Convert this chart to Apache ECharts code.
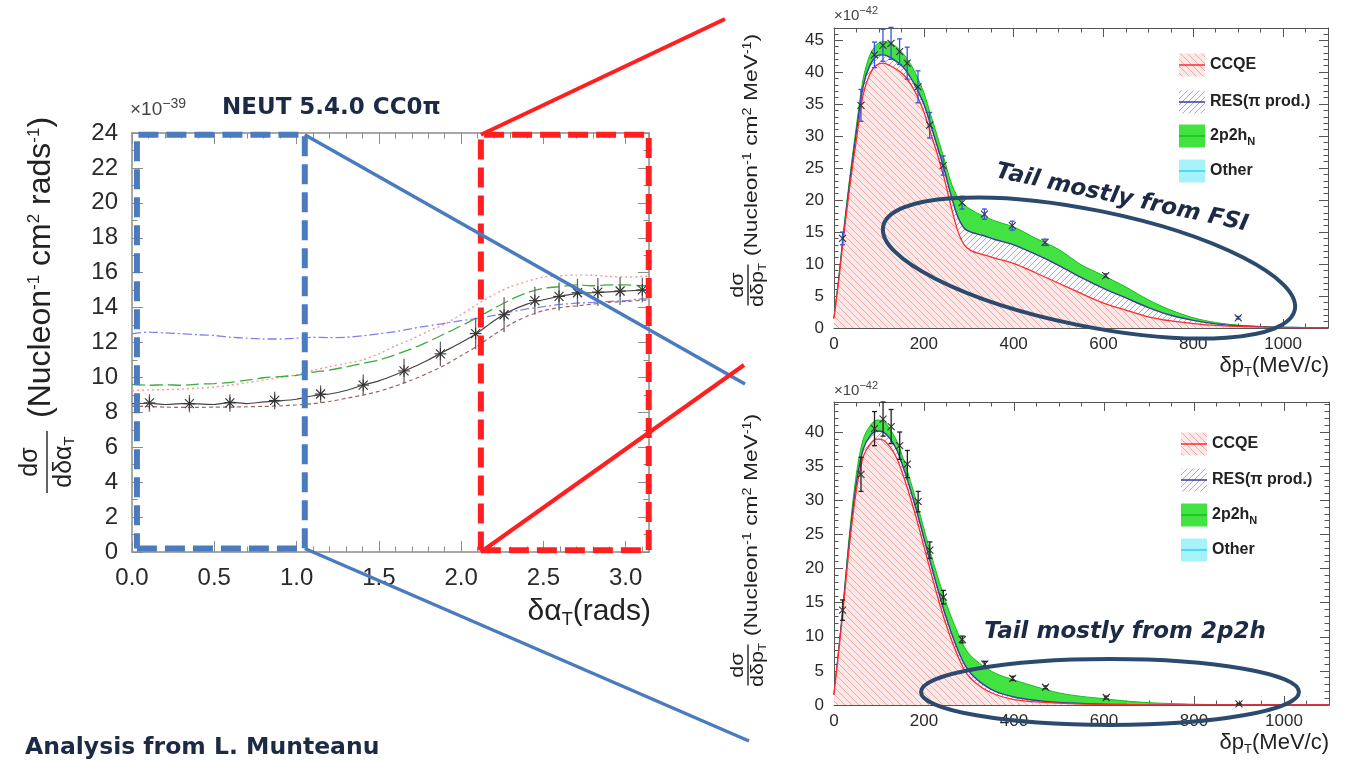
<!DOCTYPE html>
<html><head><meta charset="utf-8">
<script src="https://cdn.jsdelivr.net/npm/echarts@6/dist/echarts.min.js"></script>
<style>html,body{margin:0;padding:0;background:#fff}#c{width:1345px;height:760px}</style>
</head><body><div id="c"></div>
<script>
// ================= LEFT PANEL (delta alpha_T) =================
const alphaGrid = [0,0.1,0.2,0.3,0.4,0.5,0.6,0.7,0.8,0.9,1.0,1.1,1.2,1.3,1.4,1.5,1.6,1.7,1.8,1.9,2.0,2.1,2.2,2.3,2.4,2.5,2.6,2.7,2.8,2.9,3.0,3.1,3.14];
const modelBlack = [8.5,8.52,8.45,8.5,8.48,8.45,8.58,8.5,8.6,8.66,8.75,8.95,9.05,9.25,9.55,9.8,10.15,10.55,11.0,11.5,12.0,12.55,13.25,13.8,14.2,14.45,14.65,14.8,14.85,14.9,14.95,15.0,15.0];
const modelGreen = [9.6,9.55,9.58,9.55,9.62,9.65,9.72,9.85,9.98,10.05,10.12,10.3,10.42,10.6,10.8,11.0,11.3,11.65,12.05,12.5,12.95,13.45,13.95,14.45,14.85,15.1,15.2,15.3,15.25,15.3,15.3,15.25,15.25];
const modelRed = [9.25,9.28,9.3,9.33,9.38,9.45,9.56,9.7,9.85,10.0,10.15,10.4,10.62,10.8,11.0,11.35,11.8,12.2,12.65,13.05,13.6,14.2,14.75,15.2,15.5,15.75,15.82,15.86,15.85,15.78,15.75,15.78,15.8];
const modelBlue = [12.5,12.6,12.55,12.5,12.45,12.4,12.3,12.25,12.2,12.2,12.25,12.3,12.28,12.3,12.38,12.5,12.62,12.8,12.95,13.1,13.25,13.38,13.55,13.75,13.92,14.05,14.18,14.25,14.3,14.35,14.4,14.5,14.5];
const modelBrown = [8.35,8.33,8.3,8.28,8.28,8.3,8.3,8.32,8.34,8.37,8.42,8.5,8.62,8.8,8.98,9.2,9.5,9.85,10.25,10.7,11.25,11.8,12.45,13.05,13.5,13.83,14.0,14.1,14.2,14.3,14.35,14.42,14.44];
const alphaPts = [0.106,0.349,0.595,0.867,1.146,1.405,1.653,1.874,2.088,2.261,2.448,2.595,2.707,2.831,2.966,3.101];
const alphaVals = [8.54,8.50,8.54,8.68,9.05,9.56,10.37,11.35,12.51,13.59,14.40,14.64,14.85,14.89,14.95,15.01];
const alphaErr = [0.5,0.5,0.5,0.5,0.5,0.6,0.7,0.7,0.9,1.0,0.8,0.8,0.8,0.8,0.8,0.7];
const alphaXTicks = {min:0, max:3.1416, interval:0.5};
const alphaYTicks = {min:0, max:24, interval:2};
const blueBox = [0.03, 0.2, 1.05, 23.9];   // x0, y0, x1, y1 (data units)
const redBox  = [2.12, 0.1, 3.14, 23.9];

// ================= RIGHT PANELS (delta p_T) =================
const ptGrid = [0,10,20,35,50,65,80,95,110,125,140,155,170,185,200,215,230,245,260,275,290,305,330,360,400,450,500,550,600,650,700,750,800,850,900,950,1000,1050,1100];
// top panel (tail from FSI) - components of the stack
const fsiCCQE = [1.5,7.0,13.4,22.0,29.5,36.5,39.7,41.1,41.4,41.0,40.4,39.6,38.2,36.3,33.8,30.5,27.2,23.5,19.2,15.3,13.0,12.1,11.5,10.9,10.1,8.6,7.0,5.4,3.9,2.8,1.75,1.1,0.7,0.4,0.25,0.15,0.08,0.04,0.02];
const fsiRES  = [0,0.2,0.4,0.8,1.2,1.3,1.4,1.4,1.3,1.3,1.2,1.1,1.0,1.0,1.2,1.3,1.2,1.4,1.7,2.2,2.6,2.9,3.0,2.9,2.9,2.9,2.8,2.5,2.3,1.9,1.45,0.9,0.5,0.25,0.1,0.05,0.02,0.01,0.01];
const fsi2p2h = [0,0.2,0.6,0.7,1.0,1.2,1.6,1.8,2.1,2.3,2.3,2.1,2.1,2.0,1.8,1.6,1.6,1.6,2.0,3.0,3.7,3.5,3.1,2.9,2.8,2.5,2.5,2.0,2.0,1.7,1.2,0.8,0.4,0.2,0.1,0.05,0.02,0.01,0];
const fsiOther = [0,0,0,0.02,0.03,0.04,0.05,0.05,0.05,0.05,0.05,0.05,0.05,0.04,0.04,0.04,0.03,0.03,0.03,0.03,0.03,0.03,0.03,0.02,0.02,0.02,0.02,0.01,0.01,0.01,0.01,0,0,0,0,0,0,0,0];
// bottom panel (tail from 2p2h)
const mecCCQE = [1.5,7.5,13.8,23.8,31.6,36.4,38.2,38.95,38.8,37.8,36.1,33.4,30.3,26.9,23.2,19.5,15.9,12.6,9.7,7.2,5.1,3.8,2.5,1.5,0.8,0.45,0.27,0.15,0.08,0.05,0.03,0.02,0.01,0.01,0,0,0,0,0];
const mecRES  = [0,0.2,0.4,0.8,1.0,1.1,1.2,1.2,1.2,1.2,1.2,1.2,1.2,1.2,1.2,1.2,1.2,1.1,1.0,0.9,0.85,0.75,0.6,0.45,0.37,0.2,0.1,0.06,0.04,0.02,0.01,0.01,0,0,0,0,0,0,0];
const mec2p2h = [0,0.1,0.35,0.9,1.4,1.5,1.5,1.6,1.6,1.4,1.3,1.3,1.3,1.3,1.4,1.5,1.8,2.1,2.3,2.5,2.5,2.6,2.7,2.65,2.5,2.0,1.4,1.05,0.8,0.5,0.3,0.18,0.1,0.05,0.03,0.02,0.01,0,0];
const mecOther = [0,0,0,0.02,0.03,0.04,0.04,0.04,0.04,0.04,0.04,0.04,0.03,0.03,0.03,0.03,0.02,0.02,0.02,0.02,0.01,0.01,0.01,0.01,0,0,0,0,0,0,0,0,0,0,0,0,0,0,0];
// pseudo-data points
const ptBins = [19,60,90,109,127,146,163,187,213,243,285,335,397,470,605,900];
const fsiData = [14.0,34.8,42.7,44.2,44.5,43.2,41.4,37.7,31.7,25.4,19.6,17.8,16.0,13.4,8.2,1.6];
const fsiErr  = [1.0,2.5,2.0,2.5,2.5,2.0,2.5,2.5,2.0,1.5,1.0,0.8,0.7,0.5,0.3,0.2];
const mecData = [13.9,33.8,40.5,41.9,40.8,38.0,35.3,29.8,22.7,15.8,9.6,6.0,3.9,2.6,1.1,0.15];
const mecErr  = [1.5,2.5,2.5,2.5,2.5,2.0,2.0,1.5,1.2,1.0,0.5,0.4,0.3,0.2,0.2,0.1];
const ptXTicks = {min:0, max:1100, interval:200};
const fsiYTicks = {min:0, max:46.9, interval:5};
const mecYTicks = {min:0, max:44.4, interval:5};
const legendNames = ['CCQE', 'RES(π prod.)', '2p2h{s|N}', 'Other'];

// ---------------- helpers ----------------
const SANS = '"Liberation Sans", Arial, sans-serif';
const NAVY = '#1c2a46';

function hatch(bg, fg, dir, size, lw) {
  const c = document.createElement('canvas');
  c.width = size; c.height = size;
  const g = c.getContext('2d');
  g.fillStyle = bg; g.fillRect(0, 0, size, size);
  g.strokeStyle = fg; g.lineWidth = lw;
  g.beginPath();
  for (const k of [-size, 0, size]) {
    if (dir === 'back') { g.moveTo(k, 0); g.lineTo(k + size, size); }
    else { g.moveTo(k, size); g.lineTo(k + size, 0); }
  }
  g.stroke();
  return {image: c, repeat: 'repeat'};
}
const ccqePat = hatch('#fde8e8', '#f4a8a8', 'back', 7, 1);
const resPat = hatch('#fafaff', '#a8a8f2', 'fwd', 6, 1);
const greenFill = '#42e242';
const otherFill = '#a6f2fb';

function axesFor(grid, xt, yt, o) {
  const base = {
    type: 'value', gridIndex: grid, splitLine: {show: false},
    axisLine: {show: true, onZero: false, lineStyle: {color: o.frame, width: o.frameW}},
    axisTick: {show: true, inside: true, length: o.tick, lineStyle: {color: o.frame, width: 1}},
  };
  const xb = Object.assign({}, base, xt, {position: 'bottom',
    minorTick: {show: true, splitNumber: o.xMinor, length: o.tick / 2, lineStyle: {color: o.frame}},
    axisLabel: {show: true, fontFamily: SANS, fontSize: o.font, color: '#2a2a2a', margin: o.xMargin,
      showMaxLabel: o.hideXMax ? false : null, formatter: o.xfmt}});
  const xtp = Object.assign({}, base, xt, {position: 'top',
    minorTick: {show: true, splitNumber: o.xMinor, length: o.tick / 2, lineStyle: {color: o.frame}},
    axisLabel: {show: false}});
  const yl = Object.assign({}, base, yt, {position: 'left',
    minorTick: {show: true, splitNumber: o.yMinor, length: o.tick / 2, lineStyle: {color: o.frame}},
    axisLabel: {show: true, fontFamily: SANS, fontSize: o.font, color: '#2a2a2a', margin: o.yMargin,
      showMaxLabel: o.hideYMax ? false : null}});
  const yr = Object.assign({}, base, yt, {position: 'right',
    minorTick: {show: true, splitNumber: o.yMinor, length: o.tick / 2, lineStyle: {color: o.frame}},
    axisLabel: {show: false}});
  return {x: [xb, xtp], y: [yl, yr]};
}

const axL = axesFor(0, alphaXTicks, alphaYTicks, {frame: '#8c8c8c', frameW: 1.5, tick: 11, font: 24,
  xMinor: 5, yMinor: 2, xMargin: 14, yMargin: 14, hideXMax: true, hideYMax: false,
  xfmt: v => v.toFixed(1)});
const axT = axesFor(1, ptXTicks, fsiYTicks, {frame: '#555', frameW: 1, tick: 9, font: 17,
  xMinor: 4, yMinor: 5, xMargin: 8, yMargin: 10, hideXMax: true, hideYMax: true, xfmt: v => String(v)});
const axB = axesFor(2, ptXTicks, mecYTicks, {frame: '#555', frameW: 1, tick: 9, font: 17,
  xMinor: 4, yMinor: 5, xMargin: 8, yMargin: 10, hideXMax: true, hideYMax: true, xfmt: v => String(v)});

function pairs(xs, ys) { return xs.map((x, i) => [x, ys[i]]); }
function triples(xs, ys, es) { return xs.map((x, i) => [x, ys[i], es[i]]); }
function boxPath(b) { return [[b[0], b[1]], [b[2], b[1]], [b[2], b[3]], [b[0], b[3]], [b[0], b[1]]]; }
// running sums of the stack components (stack bottom -> top)
function cumulate(list) {
  const out = []; let acc = list[0].map(() => 0);
  list.forEach(arr => { acc = acc.map((v, i) => v + arr[i]); out.push(acc.slice()); });
  return out;
}

function errRender(barColor, markColor, cap, marker, ms) {
  return function (params, api) {
    const x = api.value(0), y = api.value(1), e = api.value(2);
    const c = api.coord([x, y]), lo = api.coord([x, y - e]), hi = api.coord([x, y + e]);
    const bar = {stroke: barColor, lineWidth: 1.3};
    const mk = {stroke: markColor, lineWidth: 1.1};
    const ch = [{type: 'line', shape: {x1: c[0], y1: lo[1], x2: c[0], y2: hi[1]}, style: bar}];
    if (cap > 0) {
      ch.push({type: 'line', shape: {x1: c[0] - cap, y1: lo[1], x2: c[0] + cap, y2: lo[1]}, style: bar});
      ch.push({type: 'line', shape: {x1: c[0] - cap, y1: hi[1], x2: c[0] + cap, y2: hi[1]}, style: bar});
    }
    ch.push({type: 'line', shape: {x1: c[0] - ms, y1: c[1] - ms, x2: c[0] + ms, y2: c[1] + ms}, style: mk});
    ch.push({type: 'line', shape: {x1: c[0] - ms, y1: c[1] + ms, x2: c[0] + ms, y2: c[1] - ms}, style: mk});
    if (marker === 'star') {
      const r = ms * 1.3;
      ch.push({type: 'line', shape: {x1: c[0], y1: c[1] - r, x2: c[0], y2: c[1] + r}, style: mk});
      ch.push({type: 'line', shape: {x1: c[0] - r, y1: c[1], x2: c[0] + r, y2: c[1]}, style: mk});
    }
    return {type: 'group', children: ch};
  };
}

function modelLine(ys, color, dash, w) {
  return {type: 'line', xAxisIndex: 0, yAxisIndex: 0, data: pairs(alphaGrid, ys), symbol: 'none',
    smooth: 0.2, lineStyle: {color: color, type: dash, width: w}, z: 2, silent: true};
}

function area(name, xi, ys, lineColor, lineW, fill, z) {
  return {name: name, type: 'line', xAxisIndex: xi, yAxisIndex: xi,
    data: pairs(ptGrid, ys), symbol: 'none', smooth: 0.3,
    lineStyle: {color: lineColor, width: lineW, opacity: lineW > 0 ? 1 : 0},
    areaStyle: {color: fill, opacity: 1, origin: 'start'}, z: z, silent: true};
}
function stackPanel(xi, comps) {
  const cum = cumulate(comps);
  return [
    area('Other', xi, cum[3], '#30d0f0', 0, otherFill, 1),
    area('2p2h', xi, cum[2], '#14c214', 1.0, greenFill, 2),
    area('RES', xi, cum[1], '#3b3b9c', 1.4, resPat, 3),
    area('CCQE', xi, cum[0], '#ff2b2b', 1.3, ccqePat, 4)
  ];
}

const series = [
  modelLine(modelRed, '#f59797', [2, 3], 1.4),
  modelLine(modelGreen, '#3aad3a', [13, 5], 1.3),
  modelLine(modelBlue, '#8080ee', [9, 3, 2, 3], 1.3),
  modelLine(modelBrown, '#a55f5f', [4, 3], 1.2),
  modelLine(modelBlack, '#444', 'solid', 1.2),
  {type: 'custom', xAxisIndex: 0, yAxisIndex: 0, data: triples(alphaPts, alphaVals, alphaErr),
    encode: {x: 0, y: 1}, renderItem: errRender('#666', '#333', 0, 'star', 4.5), z: 3, silent: true},
  {type: 'line', xAxisIndex: 0, yAxisIndex: 0, data: boxPath(blueBox), symbol: 'none', clip: false,
    lineStyle: {color: '#4a7bbe', width: 6, type: [20, 8], cap: 'butt'}, z: 6, silent: true},
  {type: 'line', xAxisIndex: 0, yAxisIndex: 0, data: boxPath(redBox), symbol: 'none', clip: false,
    lineStyle: {color: '#ff1f1f', width: 6, type: [20, 8], cap: 'butt'}, z: 6, silent: true}
].concat(
  stackPanel(2, [fsiCCQE, fsiRES, fsi2p2h, fsiOther]),
  [{type: 'custom', xAxisIndex: 2, yAxisIndex: 2, data: triples(ptBins, fsiData, fsiErr),
    encode: {x: 0, y: 1}, renderItem: errRender('#3355dd', '#333', 2.5, 'x', 3.5), z: 6, silent: true}],
  stackPanel(4, [mecCCQE, mecRES, mec2p2h, mecOther]),
  [{type: 'custom', xAxisIndex: 4, yAxisIndex: 4, data: triples(ptBins, mecData, mecErr),
    encode: {x: 0, y: 1}, renderItem: errRender('#222', '#333', 2.5, 'x', 3.5), z: 6, silent: true}]
);

const chart = echarts.init(document.getElementById('c'));
chart.setOption({
  animation: false,
  backgroundColor: '#ffffff',
  grid: [
    {left: 132, top: 133, width: 517, height: 419, outerBoundsMode: 'none', containLabel: false},
    {left: 834, top: 28, width: 494, height: 300, outerBoundsMode: 'none', containLabel: false},
    {left: 834, top: 402, width: 495, height: 303, outerBoundsMode: 'none', containLabel: false}
  ],
  xAxis: [].concat(axL.x, axT.x, axB.x),
  yAxis: [].concat(axL.y, axT.y, axB.y),
  series: series
});

// ---------------- annotations ----------------
const px = (p) => chart.convertToPixel({xAxisIndex: 0, yAxisIndex: 0}, p);
const bTR = px([blueBox[2], blueBox[3]]), bBR = px([blueBox[2], blueBox[1]]);
const rTL = px([redBox[0], redBox[3]]), rBL = px([redBox[0], 0]);

function txt(x, y, text, font, opts) {
  opts = opts || {};
  const a = opts.align || 'left', va = opts.va || 'middle';
  return {type: 'text', x: x, y: y, rotation: opts.rot || 0, z: opts.z || 50,
    style: {text: text, font: font, fill: opts.fill || '#222', align: a, verticalAlign: va,
      textAlign: a, textVerticalAlign: va, rich: opts.rich}};
}
function yTitle(cx, cy, numY, denY, half, parenX, parenY, fracFont, parenFont, denText, parenText, sx, richSet) {
  return {type: 'group', x: cx, y: cy, rotation: Math.PI / 2, scaleX: sx, children: [
    txt(0, numY, 'dσ', fracFont, {align: 'center'}),
    {type: 'line', shape: {x1: -half, y1: 0, x2: half, y2: 0}, style: {stroke: '#222', lineWidth: 1.4}},
    txt(0, denY, denText, fracFont, {align: 'center', rich: richSet}),
    txt(parenX, parenY, parenText, parenFont, {rich: richSet})
  ]};
}
function legend(x0, ys) {
  const els = [];
  const fills = [ccqePat, resPat, greenFill, otherFill];
  const lines = ['#ff2b2b', '#3b3b9c', '#14c214', '#30d0f0'];
  ys.forEach((y, i) => {
    els.push({type: 'rect', shape: {x: x0, y: y - 11.5, width: 26, height: 23}, style: {fill: fills[i]}, z: 40});
    els.push({type: 'line', shape: {x1: x0, y1: y, x2: x0 + 26, y2: y}, style: {stroke: lines[i], lineWidth: 1.5}, z: 41});
    els.push(txt(x0 + 31, y, legendNames[i], 'bold 16px ' + SANS,
      {rich: {s: {fontSize: 11, fontWeight: 'bold', padding: [11, 0, 0, 0]}}, z: 41}));
  });
  return els;
}
const supSmall = {sup: {fontSize: 11, padding: [0, 0, 10, 0]}};

const graphics = [
  // connectors
  {type: 'line', shape: {x1: bTR[0], y1: bTR[1], x2: 745, y2: 384}, style: {stroke: '#4a7bbe', lineWidth: 3.5}, z: 30},
  {type: 'line', shape: {x1: bBR[0], y1: bBR[1], x2: 749, y2: 741}, style: {stroke: '#4a7bbe', lineWidth: 3.5}, z: 30},
  {type: 'line', shape: {x1: rTL[0], y1: rTL[1], x2: 725, y2: 19}, style: {stroke: '#ff1f1f', lineWidth: 4}, z: 30},
  {type: 'line', shape: {x1: rBL[0], y1: rBL[1], x2: 744, y2: 365}, style: {stroke: '#ff1f1f', lineWidth: 4}, z: 30},
  // ellipses and annotations
  {type: 'ellipse', x: 1089, y: 268, rotation: -0.2, shape: {cx: 0, cy: 0, rx: 210, ry: 58},
    style: {fill: 'rgba(0,0,0,0)', stroke: '#2c4a6e', lineWidth: 4}, z: 45},
  {type: 'ellipse', x: 1110, y: 692, shape: {cx: 0, cy: 0, rx: 189, ry: 33},
    style: {fill: 'rgba(0,0,0,0)', stroke: '#2c4a6e', lineWidth: 4}, z: 45},
  txt(1122, 198, 'Tail mostly from FSI', 'italic bold 23px "DejaVu Sans"', {align: 'center', rot: -0.21, fill: NAVY}),
  txt(1125, 632, 'Tail mostly from 2p2h', 'italic bold 23px "DejaVu Sans"', {align: 'center', fill: NAVY}),
  // titles
  txt(222, 108, 'NEUT 5.4.0 CC0π', 'bold 23px "DejaVu Sans"', {fill: NAVY}),
  txt(25, 748, 'Analysis from L. Munteanu', 'bold 23.5px "DejaVu Sans"', {fill: NAVY}),
  txt(130, 110, '×10{sup|−39}', '19px ' + SANS, {fill: '#444', rich: {sup: {fontSize: 14, padding: [0, 0, 12, 0]}}}),
  txt(834, 16, '×10{sup|−42}', '15px ' + SANS, {fill: '#444', rich: supSmall}),
  txt(834, 391, '×10{sup|−42}', '15px ' + SANS, {fill: '#444', rich: supSmall}),
  // axis titles
  txt(651, 612, 'δα{sub|T}(rads)', '30px ' + SANS, {align: 'right',
    rich: {sub: {fontSize: 18, padding: [16, 0, 0, 0]}}}),
  txt(1329, 366, 'δp{sub|T}(MeV/c)', '22px ' + SANS, {align: 'right',
    rich: {sub: {fontSize: 13, padding: [12, 0, 0, 0]}}}),
  txt(1329, 743, 'δp{sub|T}(MeV/c)', '22px ' + SANS, {align: 'right',
    rich: {sub: {fontSize: 13, padding: [12, 0, 0, 0]}}}),
  yTitle(47, 462, -17, 17, 31, 44, -6, '25px ' + SANS, '32px ' + SANS,
    'dδα{sub|T}', '(Nucleon{sup|-1} cm{sup|2} rads{sup|-1})', 1,
    {sub: {fontSize: 15, padding: [12, 0, 0, 0]}, sup: {fontSize: 17, padding: [0, 0, 13, 0]}}),
  yTitle(748, 285, -10, 10, 17, 24, 4, '18px ' + SANS, '19px ' + SANS,
    'dδp{sub|T}', '(Nucleon{sup|-1} cm{sup|2} MeV{sup|-1})', 1.2,
    {sub: {fontSize: 11, padding: [9, 0, 0, 0]}, sup: {fontSize: 12, padding: [0, 0, 9, 0]}}),
  yTitle(748, 665, -10, 10, 17, 24, 4, '18px ' + SANS, '19px ' + SANS,
    'dδp{sub|T}', '(Nucleon{sup|-1} cm{sup|2} MeV{sup|-1})', 1.2,
    {sub: {fontSize: 11, padding: [9, 0, 0, 0]}, sup: {fontSize: 12, padding: [0, 0, 9, 0]}})
].concat(legend(1179, [65, 102, 136, 171]), legend(1181, [444, 480, 515, 550]));

chart.setOption({graphic: graphics});
</script>
</body></html>
